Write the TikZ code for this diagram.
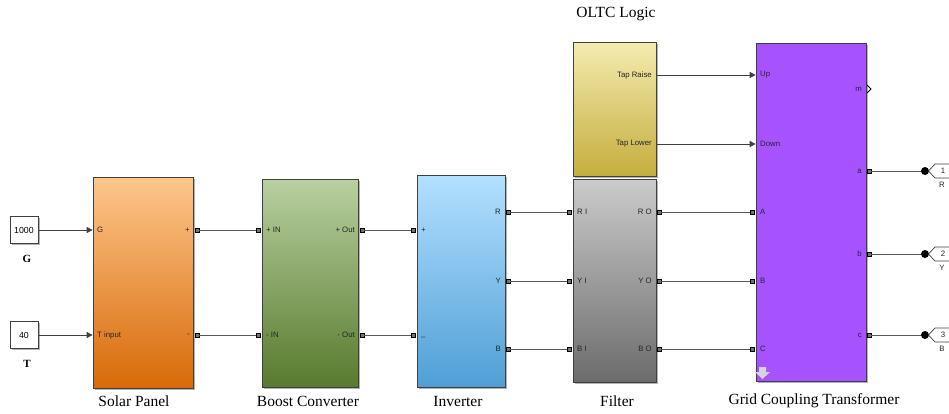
\documentclass[tikz,border=0pt]{standalone}
\usepackage{fontspec}
\setmainfont{Liberation Serif}
\setsansfont{Liberation Sans}
\usetikzlibrary{arrows.meta,positioning,shadows}
\definecolor{SolarTop}{HTML}{FDC68C}
\definecolor{SolarBot}{HTML}{D86A08}
\definecolor{BoostTop}{HTML}{B8D0A0}
\definecolor{BoostBot}{HTML}{587A2E}
\definecolor{InvTop}{HTML}{B3E0FF}
\definecolor{InvBot}{HTML}{4F9FD6}
\definecolor{FiltTop}{HTML}{CBCBCB}
\definecolor{FiltBot}{HTML}{6C6C6C}
\definecolor{OltcTop}{HTML}{F4EBB0}
\definecolor{OltcBot}{HTML}{C5AD3E}
\definecolor{GridPurple}{HTML}{A652FF}

\begin{document}
\begin{tikzpicture}[x=1pt, y=-1pt,
  block/.style={draw=black!75, line width=0.7pt, inner sep=0pt,
                drop shadow={shadow xshift=1.5pt, shadow yshift=-1.5pt,
                             fill=black!50, opacity=0.6}},
  const/.style={block, fill=white, minimum width=28pt, minimum height=27pt,
                font=\sffamily\fontsize{8.8}{9}\selectfont},
  pport/.style={draw=black, fill=black!55, minimum size=3.6pt,
                inner sep=0pt, line width=0.6pt},
  outdot/.style={circle, fill=black, minimum size=8pt, inner sep=0pt},
  plab/.style={font=\sffamily\fontsize{7.8}{8}\selectfont, inner sep=0pt,
               text=black!85},
  caption/.style={font=\fontsize{15.5}{17}\selectfont},
  varname/.style={font=\bfseries\fontsize{11}{12}\selectfont},
  wire/.style={draw=black!65, line width=0.8pt},
  sig/.style={-{Triangle[length=6pt,width=6pt]}, draw=black!75, line width=0.7pt}
]
\useasboundingbox (0,0) rectangle (949,413);

% sources
\node[const] (c1) at (24,230) {1000};
\node[const] (c2) at (24,335) {40};
\node[varname] at (27,259) {G};
\node[varname] at (27,364) {T};

% blocks
\node[block, top color=SolarTop, bottom color=SolarBot,
      minimum width=100pt, minimum height=211pt] (solar) at (143,282.5) {};
\node[block, top color=BoostTop, bottom color=BoostBot,
      minimum width=96pt, minimum height=208pt] (boost) at (310,283) {};
\node[block, top color=InvTop, bottom color=InvBot,
      minimum width=88pt, minimum height=212pt] (inv) at (461,281) {};
\node[block, top color=FiltTop, bottom color=FiltBot,
      minimum width=83pt, minimum height=203pt] (filt) at (614.5,280.5) {};
\node[block, top color=OltcTop, bottom color=OltcBot,
      minimum width=83pt, minimum height=134pt] (oltc) at (614.5,109) {};
\node[block, fill=GridPurple,
      minimum width=110pt, minimum height=338pt] (gct) at (811,212) {};

% port labels
\node[plab, anchor=west] at (97,230) {G};
\node[plab, anchor=west] at (97,335) {T input};
\node[plab, anchor=east] at (190,230) {+};
\node[plab, anchor=east] at (190,335) {-};
\node[plab, anchor=west] at (266,230) {+ IN};
\node[plab, anchor=west] at (266,335) {- IN};
\node[plab, anchor=east] at (355,230) {+ Out};
\node[plab, anchor=east] at (355,335) {- Out};
\node[plab, anchor=west] at (421,230) {+};
\node[plab, anchor=west] at (421,338) {\textendash};
\node[plab, anchor=east] at (501,212) {R};
\node[plab, anchor=east] at (501,281) {Y};
\node[plab, anchor=east] at (501,349) {B};
\node[plab, anchor=west] at (577,212) {R I};
\node[plab, anchor=west] at (577,281) {Y I};
\node[plab, anchor=west] at (577,349) {B I};
\node[plab, anchor=east] at (652,212) {R O};
\node[plab, anchor=east] at (652,281) {Y O};
\node[plab, anchor=east] at (652,349) {B O};
\node[plab, anchor=east] (raise) at (652,75) {Tap Raise};
\node[plab, anchor=east] (lower) at (652,144) {Tap Lower};
\node[plab, anchor=west] at (760,75) {Up};
\node[plab, anchor=west] at (760,144) {Down};
\node[plab, anchor=west] at (760,212) {A};
\node[plab, anchor=west] at (760,281) {B};
\node[plab, anchor=west] at (760,349) {C};
\node[plab, anchor=east] at (862,89) {m};
\node[plab, anchor=east] at (862,171) {a};
\node[plab, anchor=east] at (862,254) {b};
\node[plab, anchor=east] at (862,335) {c};

% physical ports
\node[pport] (sp-p) at (197,230) {};
\node[pport] (sp-n) at (197,335) {};
\node[pport] (bc-pi) at (258,230) {};
\node[pport] (bc-ni) at (258,335) {};
\node[pport] (bc-po) at (362,230) {};
\node[pport] (bc-no) at (362,335) {};
\node[pport] (inv-p) at (413,230) {};
\node[pport] (inv-n) at (413,335) {};
\node[pport] (inv-r) at (508,212) {};
\node[pport] (inv-y) at (508,281) {};
\node[pport] (inv-b) at (508,349) {};
\node[pport] (fl-ri) at (569,212) {};
\node[pport] (fl-yi) at (569,281) {};
\node[pport] (fl-bi) at (569,349) {};
\node[pport] (fl-ro) at (659,212) {};
\node[pport] (fl-yo) at (659,281) {};
\node[pport] (fl-bo) at (659,349) {};
\node[pport] (tr-a) at (752,212) {};
\node[pport] (tr-b) at (752,281) {};
\node[pport] (tr-c) at (752,349) {};
\node[pport] (tr-oa) at (869,171) {};
\node[pport] (tr-ob) at (869,254) {};
\node[pport] (tr-oc) at (869,335) {};
\draw[line width=0.8pt] (867,85) -- (871,89) -- (867,93);
\fill[GridPurple!35!black!20!white] (759,367) -- (766,367) -- (766,372) -- (770,372)
  -- (762.5,379) -- (755,372) -- (759,372) -- cycle;

% outports
\node[outdot] (o1) at (925,171) {};
\node[outdot] (o2) at (925,254) {};
\node[outdot] (o3) at (925,335) {};
\foreach \yy/\num/\ph in {171/1/R, 254/2/Y, 335/3/B}{
  \draw[black!75, line width=0.7pt] (949,\yy-7) -- (935,\yy-7) -- (928.5,\yy)
    -- (935,\yy+7) -- (949,\yy+7);
  \node[plab] at (943,\yy) {\num};
  \node[plab] at (942,\yy+14) {\ph};
}

% connections
\draw[sig] (c1.east) -- (c1.east -| solar.west);
\draw[sig] (c2.east) -- (c2.east -| solar.west);
\draw[wire] (sp-p) -- (bc-pi);
\draw[wire] (sp-n) -- (bc-ni);
\draw[wire] (bc-po) -- (inv-p);
\draw[wire] (bc-no) -- (inv-n);
\draw[wire] (inv-r) -- (fl-ri);
\draw[wire] (inv-y) -- (fl-yi);
\draw[wire] (inv-b) -- (fl-bi);
\draw[wire] (fl-ro) -- (tr-a);
\draw[wire] (fl-yo) -- (tr-b);
\draw[wire] (fl-bo) -- (tr-c);
\draw[wire] (tr-oa) -- (o1);
\draw[wire] (tr-ob) -- (o2);
\draw[wire] (tr-oc) -- (o3);
\draw[sig] (raise.east -| oltc.east) -- (raise.east -| gct.west);
\draw[sig] (lower.east -| oltc.east) -- (lower.east -| gct.west);

% captions
\node[caption] at (134,401) {Solar Panel};
\node[caption] at (308,401) {Boost Converter};
\node[caption] at (458,401) {Inverter};
\node[caption] at (617,401) {Filter};
\node[caption] at (616,14) {OLTC Logic};
\node[caption] at (814,401) {Grid Coupling Transformer};
\end{tikzpicture}
\end{document}
